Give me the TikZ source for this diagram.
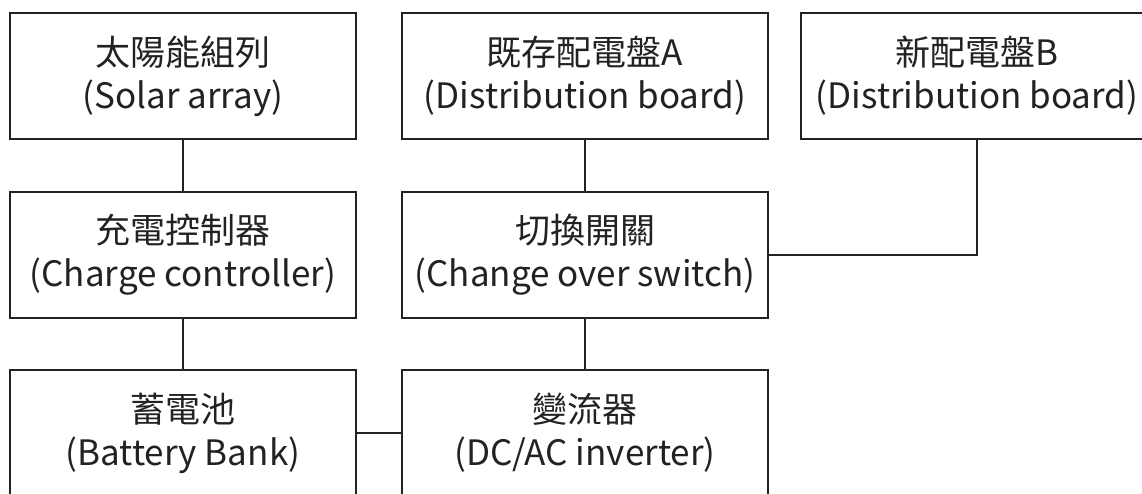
\documentclass[tikz,border=0pt]{standalone}
\usepackage{fontspec}
\setmainfont{Noto Sans CJK TC}
\definecolor{ink}{HTML}{222222}
\begin{document}
\begin{tikzpicture}[x=1pt,y=-1pt,
  box/.style={draw=ink,line width=2pt,rectangle,minimum height=126pt,align=center,
    text=ink,font=\fontsize{35}{43}\selectfont,inner sep=0pt},
  wire/.style={draw=ink,line width=2pt}]
\useasboundingbox (0,0) rectangle (1142,494);
\clip (0,0) rectangle (1142,494);
\fill[white] (0,0) rectangle (1142,494);
\node[box,minimum width=346pt] (solar) at (183,76) {太陽能組列\\(Solar array)};
\node[box,minimum width=366pt] (dbA) at (585,76) {既存配電盤A\\(Distribution board)};
\node[box,minimum width=352pt] (dbB) at (977,76) {新配電盤B\\(Distribution board)};
\node[box,minimum width=346pt] (charge) at (183,255) {充電控制器\\(Charge controller)};
\node[box,minimum width=366pt] (switch) at (585,255) {切換開關\\(Change over switch)};
\node[box,minimum width=346pt] (battery) at (183,433) {蓄電池\\(Battery Bank)};
\node[box,minimum width=366pt] (inverter) at (585,433) {變流器\\(DC/AC inverter)};
\draw[wire] (solar.south) -- (charge.north);
\draw[wire] (charge.south) -- (battery.north);
\draw[wire] (dbA.south) -- (switch.north);
\draw[wire] (switch.south) -- (inverter.north);
\draw[wire] (battery.east) -- (inverter.west);
\draw[wire] (switch.east) -| (dbB.south);
\end{tikzpicture}
\end{document}
